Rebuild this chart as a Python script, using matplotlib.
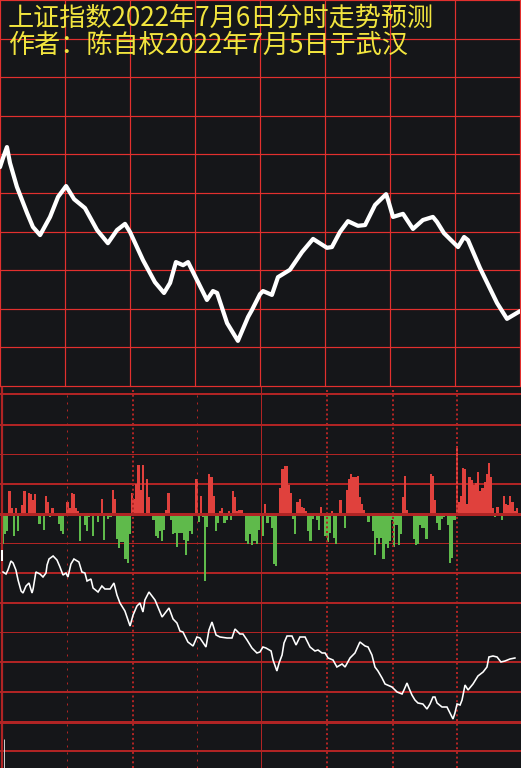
import matplotlib
matplotlib.use('Agg')
import matplotlib.pyplot as plt

plt.rcParams['font.family'] = ['Noto Sans CJK SC', 'DejaVu Sans']
plt.rcParams['lines.scale_dashes'] = False

# ---------------- data ----------------
title1 = "上证指数2022年7月6日分时走势预测"
title2 = "作者：陈自权2022年7月5日于武汉"

# predicted curve (top panel): minutes since open, level in grid rows
pred_minutes = [0, 1.4, 3.2, 4.6, 7.8, 12.5, 15.2, 18.5, 23.1, 26.8, 30.5,
                34.2, 39.2, 44.8, 49.8, 54.0, 57.7, 60.0, 66.0, 71.5, 75.7,
                78.5, 81.2, 84.5, 86.8, 89.1, 95.5, 98.3, 100.2, 104.8, 109.8,
                114.5, 116.3, 120.0, 121.4, 125.5, 128.3, 133.8, 139.4, 144.5,
                150.9, 153.2, 156.9, 160.6, 165.2, 168.5, 173.1, 178.2, 179.1,
                181.4, 186.0, 190.6, 195.2, 199.8, 201.7, 204.9, 211.4, 214.2,
                216.0, 221.5, 229.4, 234.0, 240.0]
pred_level = [5.67, 5.91, 6.19, 5.78, 5.16, 4.48, 4.12, 3.91, 4.38, 4.90, 5.18,
              4.84, 4.61, 4.04, 3.70, 4.04, 4.20, 3.99, 3.26, 2.69, 2.41,
              2.67, 3.21, 3.13, 3.21, 2.95, 2.23, 2.46, 2.41, 1.63, 1.17,
              1.79, 1.97, 2.38, 2.46, 2.36, 2.82, 3.01, 3.47, 3.81,
              3.58, 3.60, 3.99, 4.27, 4.15, 4.17, 4.69, 4.97, 4.82,
              4.38, 4.46, 4.07, 4.30, 4.38, 4.25, 3.96, 3.60, 3.86,
              3.78, 3.06, 2.15, 1.74, 1.94]

# volume-style bars (bottom panel): minute index and signed value
bar_minutes = [3, 4, 6, 9, 10, 12, 13, 14, 15, 20, 21, 23, 30, 31, 32, 33, 34, 35,
               46, 51, 52, 60, 61, 62, 63, 64, 65, 67, 68, 76, 77, 90, 92, 96, 97,
               98, 101, 102, 105, 107, 108, 109, 110, 111, 122, 129, 130, 131, 132,
               133, 134, 137, 138, 139, 140, 141, 148, 153, 157, 160, 161, 162, 163,
               164, 165, 166, 167, 168, 186, 187, 188, 199, 200, 201, 211, 212, 213,
               214, 215, 216, 217, 218, 219, 220, 221, 222, 223, 224, 225, 226, 227,
               228, 230, 233, 234, 235, 236, 237, 238, 239,
               0, 1, 2, 5, 7, 8, 17, 19, 22, 26, 27, 28, 36, 38, 39, 40, 42, 44, 45,
               47, 48, 49, 50, 53, 54, 55, 56, 57, 58, 59, 69, 70, 71, 72, 73, 74,
               75, 78, 79, 80, 81, 82, 83, 84, 85, 86, 87, 88, 89, 91, 93, 94, 95,
               99, 100, 103, 104, 106, 112, 113, 114, 115, 116, 117, 118, 119, 121,
               123, 124, 125, 126, 127, 128, 135, 136, 142, 143, 144, 146, 147, 150,
               151, 152, 154, 155, 159, 170, 172, 173, 174, 175, 176, 177, 178, 179,
               180, 181, 182, 183, 184, 185, 191, 192, 193, 194, 195, 196, 197, 198,
               202, 203, 204, 205, 207, 208, 209, 210, 229, 231, 232]
bar_values = [23, 6, 6, 9, 23, 21, 20, 14, 20, 18, 12, 6, 12, 6, 21, 20, 6, 3,
              15, 24, 15, 21, 15, 30, 49, 24, 49, 35, 17, 4, 21, 35, 18, 40, 37,
              18, 3, 6, 3, 23, 17, 3, 4, 4, 10, 26, 45, 48, 48,
              29, 21, 12, 15, 7, 6, 3, 7, 3, 14, 24, 35, 40, 37,
              37, 38, 17, 10, 4, 17, 38, 4, 40, 38, 14, 68, 12, 18,
              46, 45, 10, 37, 34, 29, 31, 42, 23, 26, 32, 40, 51, 37,
              6, 7, 18, 10, 9, 18, 12, 3, 6,
              -30, -20, -17, -22, -17, -2, -10, -16, -3, -10, -17, -20, -27, -11, -17, -3, -22, -8, -2,
              -26, -2, -5, -3, -25, -34, -28, -28, -45, -49, -20, -2, -6, -22, -24, -17, -27,
              -16, -6, -20, -19, -33, -19, -19, -26, -41, -27, -17, -20, -2, -8, -3, -67, -13,
              -17, -9, -9, -6, -6, -2, -27, -30, -20, -31, -27, -30, -16, -22,
              -9, -3, -14, -50, -52, -2, -5, -20, -17, -27, -5, -6, -16, -22,
              -28, -19, -24, -30, -14, -8, -17, -41, -24, -30, -24, -45, -30, -34,
              -27, -6, -33, -11, -31, -20, -25, -31, -30, -11, -14, -14, -25, -2,
              -9, -16, -5, -3, -11, -49, -44, -6, -3, -2, -6]

# actual intraday line (bottom panel): minute, level
line_minutes = [0, 1.4, 2.3, 3.7, 4.7, 6.0, 7.0, 8.4, 9.3, 10.7, 12.1, 13.5, 14.0,
                15.3, 17.2, 18.6, 20.0, 20.5, 21.4, 23.3, 25.1, 26.5, 27.9, 29.3,
                30.2, 31.6, 33.0, 35.3, 36.7, 38.1, 39.1, 40.9, 41.9, 44.2, 46.0,
                47.4, 49.8, 51.6, 53.0, 54.4, 56.7, 59.1, 60.5, 62.3, 63.7, 65.1,
                66.0, 67.9, 70.7, 73.0, 74.0, 75.8, 77.2, 79.1, 80.9, 82.3, 83.7,
                86.0, 88.4, 90.2, 91.6, 94.4, 95.8, 97.2, 99.1, 100.9, 104.2, 106.5,
                107.9, 110.2, 111.6, 113.5, 115.8, 118.1, 119.5, 120.9, 122.3, 124.7,
                125.6, 127.4, 128.4, 129.8, 130.7, 132.1, 134.4, 136.3, 138.1, 140.5,
                142.8, 145.1, 146.5, 148.4, 149.8, 151.2, 153.5, 155.3, 157.7, 159.1,
                161.4, 163.7, 166.0, 168.4, 169.8, 171.6, 173.0, 174.4, 176.3, 177.7,
                180.9, 183.3, 185.6, 186.5, 187.9, 188.8, 190.2, 191.6, 193.0, 195.3,
                197.2, 198.6, 200.0, 200.9, 201.9, 204.2, 206.5, 207.9, 209.3, 210.2,
                211.2, 212.6, 213.5, 214.9, 216.3, 218.6, 220.9, 223.3, 225.1, 226.0,
                227.9, 229.8, 231.6, 233.5, 235.8, 238.1]
line_level = [196, 194, 198, 207, 205, 198, 188, 177, 175, 182, 185, 175, 179,
              196, 194, 191, 195, 203, 209, 212, 208, 201, 193, 195,
              191, 204, 209, 206, 196, 195, 187, 189, 180, 176, 182,
              179, 179, 185, 173, 165, 157, 142, 153, 162, 165, 156,
              168, 176, 168, 156, 151, 156, 160, 149, 145, 137, 136,
              126, 122, 131, 130, 121, 138, 146, 133, 131, 130, 130,
              139, 134, 134, 128, 120, 115, 116, 121, 120, 117,
              108, 97, 105, 113, 125, 132, 132, 123, 131, 131,
              121, 117, 118, 115, 115, 110, 108, 101, 104, 101,
              110, 115, 126, 122, 121, 113, 101, 97, 90, 84,
              81, 76, 74, 78, 85, 80, 73, 68, 65, 64,
              59, 64, 71, 71, 65, 61, 61, 55, 49, 55,
              64, 63, 68, 83, 78, 84, 92, 96, 101, 111,
              112, 111, 106, 107, 109, 110]

# ---------------- style ----------------
W, H, DPI = 521, 768, 100
PT = 72.0 / DPI
BG = '#151619'
RED_TOP = '#e2302e'
RED_BOT = '#b02424'
YELLOW = '#f2e53e'
BAR_UP = '#e0413d'
BAR_DN = '#5fba4b'

fig = plt.figure(figsize=(W / DPI, H / DPI), dpi=DPI, facecolor=BG)

TOP_H = 386
# ---------- top panel ----------
ax_top = fig.add_axes([0, (H - TOP_H) / H, 520 / W, TOP_H / H])
ax_top.set_facecolor(BG)
ax_top.set_xlim(0, 240)
ax_top.set_ylim(0, 10)
ax_top.set_axis_off()
for xv in range(0, 241, 30):
    ax_top.axvline(xv, color=RED_TOP, lw=1.2 * PT, clip_on=False, zorder=1)
for yv in range(0, 11):
    ax_top.axhline(yv, color=RED_TOP, lw=1.2 * PT, clip_on=False, zorder=1)
ax_top.plot(pred_minutes, pred_level, color='white', lw=4.2 * PT,
            solid_joinstyle='round', solid_capstyle='round', zorder=3)

fig.text(8 / W, 1 - 25.5 / H, title1, color=YELLOW, fontsize=18.8,
         va='baseline', ha='left', zorder=5)
fig.text(8 / W, 1 - 52.5 / H, title2, color=YELLOW, fontsize=18.8,
         va='baseline', ha='left', zorder=5)

# ---------- bottom panel ----------
BOT_H = H - TOP_H
rect = [0, 0, 1, BOT_H / H]
PX_PER_MIN = 2.15
X0 = 3
xlim_min = (-X0 / PX_PER_MIN, (W - X0) / PX_PER_MIN)

# grid layer in panel pixel coordinates
ax_grid = fig.add_axes(rect)
ax_grid.set_facecolor(BG)
ax_grid.set_xlim(0, W)
ax_grid.set_ylim(H, TOP_H)
ax_grid.set_axis_off()
hlines = [(394, 2), (425, 2), (454, 1), (484, 2), (543, 1), (573, 2),
          (603, 2), (632, 1), (662, 2), (692, 2), (722, 3), (751, 2)]
for yy, w in hlines:
    ax_grid.axhline(yy, color=RED_BOT, lw=w * PT, zorder=1)
ax_grid.axvline(261, color=RED_BOT, lw=1 * PT, zorder=1)

# bars
ax_bar = fig.add_axes(rect)
ax_bar.set_facecolor('none')
ax_bar.set_xlim(*xlim_min)
ax_bar.set_ylim(-254, 128)
ax_bar.set_axis_off()
colors = [BAR_UP if v > 0 else BAR_DN for v in bar_values]
ax_bar.bar(bar_minutes, bar_values, width=1.0, color=colors, linewidth=0,
           align='center', antialiased=False)

# overlay: zero line, dotted verticals, left border
ax_ov = fig.add_axes(rect)
ax_ov.set_facecolor('none')
ax_ov.set_xlim(0, W)
ax_ov.set_ylim(H, TOP_H)
ax_ov.set_axis_off()
ax_ov.axhline(514, color=RED_BOT, lw=3 * PT)
for xx, w in [(67, 1), (133, 2), (197, 1), (327, 2), (393, 2), (457, 2)]:
    ln = ax_ov.axvline(xx, ymin=0, ymax=(H - 390) / BOT_H, color=RED_BOT,
                       lw=w * PT)
    if w == 1:
        ln.set_dashes((2 * PT, 5 * PT))
    else:
        ln.set_dashes((2 * PT, 2.7 * PT))
ax_ov.axvline(2, color=RED_BOT, lw=2.2 * PT)
ax_ov.axhline(TOP_H, color=RED_TOP, lw=1.5 * PT)
ax_ov.plot([2, 2], [550, 561], color='white', lw=2 * PT, solid_capstyle='butt')
ax_ov.plot([3.5, 3.5], [739, 768], color='#cccccc', lw=1 * PT, solid_capstyle='butt')

# actual line
ax_ln = fig.add_axes(rect)
ax_ln.set_facecolor('none')
ax_ln.set_xlim(*xlim_min)
ax_ln.set_ylim(0, BOT_H)
ax_ln.set_axis_off()
ax_ln.plot(line_minutes, line_level, color='white', lw=1.6 * PT,
           solid_joinstyle='miter')

fig.savefig('out.png', dpi=DPI, facecolor=BG)
